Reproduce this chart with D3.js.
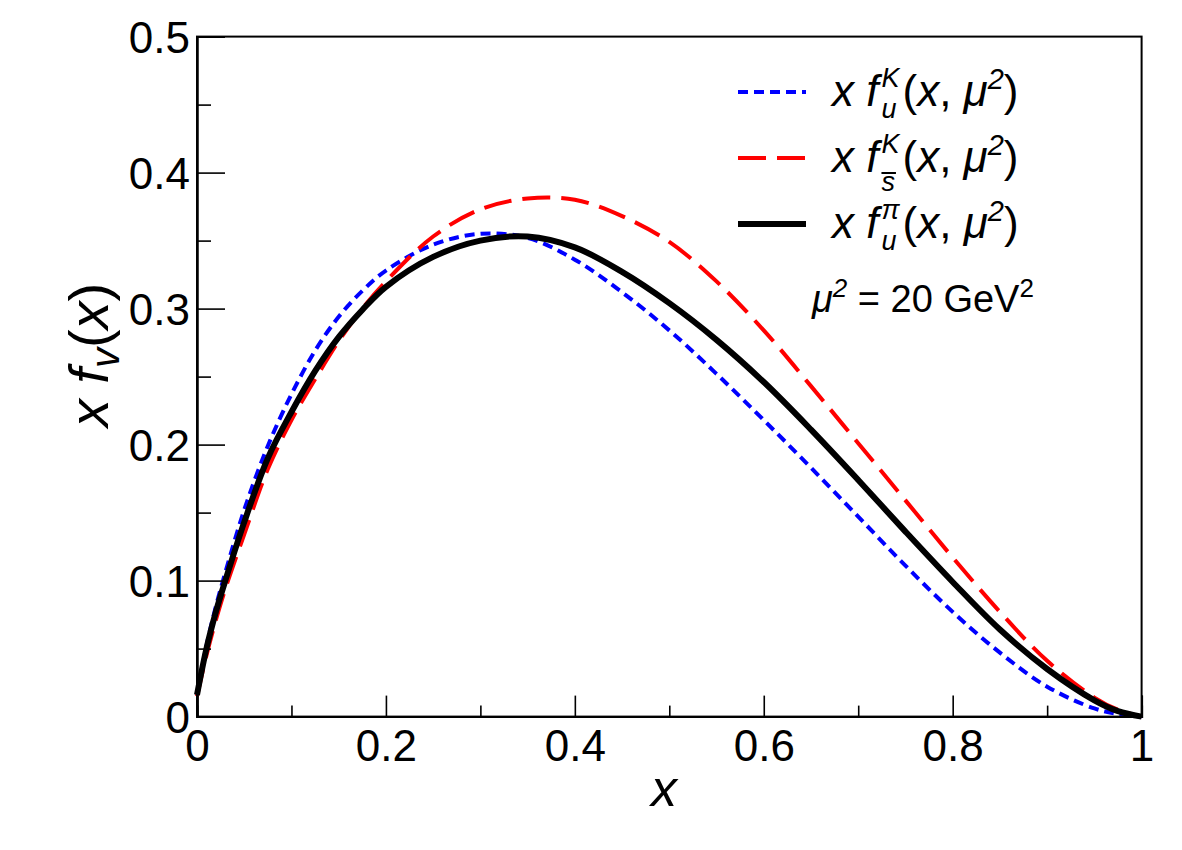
<!DOCTYPE html>
<html><head><meta charset="utf-8">
<script src="https://cdn.jsdelivr.net/npm/d3@7"></script>
<style>body{margin:0;background:#fff} svg{display:block} text{font-family:"Liberation Sans",Arial,Helvetica,sans-serif;fill:#000}</style>
</head><body><svg id="c" width="1182" height="850"></svg>
<script>
// ---- data ----
const xVals = [0,0.01,0.02,0.03,0.05,0.075,0.1,0.125,0.15,0.175,0.2,0.25,0.3,0.35,0.4,0.45,0.5,0.55,0.6,0.65,0.7,0.75,0.8,0.85,0.9,0.95,0.975,1.0];
const kaonU   = [0.016,0.052,0.081,0.106,0.152,0.199,0.237,0.269,0.294,0.313,0.328,0.347,0.355,0.352,0.336,0.312,0.284,0.252,0.218,0.183,0.147,0.111,0.077,0.047,0.022,0.006,0.002,0.0];
const kaonSbar= [0.015,0.045,0.071,0.094,0.134,0.182,0.218,0.248,0.276,0.300,0.320,0.353,0.373,0.381,0.380,0.368,0.349,0.320,0.284,0.243,0.201,0.159,0.117,0.077,0.041,0.014,0.005,0.0];
const pionU   = [0.016,0.050,0.077,0.100,0.143,0.190,0.224,0.254,0.279,0.299,0.316,0.338,0.350,0.353,0.345,0.327,0.304,0.277,0.246,0.211,0.174,0.136,0.099,0.064,0.035,0.012,0.004,0.0];
const xMajor = [0,0.2,0.4,0.6,0.8,1];
const xMinor = [0.1,0.3,0.5,0.7,0.9];
const yMajor = [0,0.1,0.2,0.3,0.4,0.5];
const yMinor = [0.05,0.15,0.25,0.35,0.45];
const xTickLabels = ["0","0.2","0.4","0.6","0.8","1"];
const yTickLabels = ["0","0.1","0.2","0.3","0.4","0.5"];

const series = [
  {name:"kaonU", values:kaonU, color:"#0000ff", width:4, dash:"10,6", sup:"K", sub:"u", bar:false},
  {name:"kaonSbar", values:kaonSbar, color:"#ff0000", width:4, dash:"28,11", sup:"K", sub:"s", bar:true},
  {name:"pionU", values:pionU, color:"#000000", width:6, dash:null, sup:"π", sub:"u", bar:false}
];

// ---- layout ----
const L=197, R=1141.6, T=36.6, B=716.6;
const svg = d3.select("#c");
const x = d3.scaleLinear().domain([0,1]).range([L,R]);
const y = d3.scaleLinear().domain([0,0.5]).range([B,T]);

// curves
const line = d3.line().x((d,i)=>x(xVals[i])).y(d=>y(d)).curve(d3.curveCatmullRom.alpha(0.5));
series.forEach(s=>{
  svg.append("path").attr("d", line(s.values)).attr("fill","none")
    .attr("stroke", s.color).attr("stroke-width", s.width)
    .attr("stroke-dasharray", s.dash).attr("stroke-linejoin","round");
});

// frame
svg.append("rect").attr("x",L).attr("y",T).attr("width",R-L).attr("height",B-T)
  .attr("fill","none").attr("stroke","#000").attr("stroke-width",2);

// axes
const fmtX = d => xTickLabels[xMajor.indexOf(d)];
const fmtY = d => yTickLabels[yMajor.indexOf(d)];
const gx = svg.append("g").attr("transform",`translate(0,${B})`)
  .call(d3.axisBottom(x).tickValues(xMajor).tickSize(-21).tickPadding(13).tickFormat(fmtX));
const gxm = svg.append("g").attr("transform",`translate(0,${B})`)
  .call(d3.axisBottom(x).tickValues(xMinor).tickSize(-11).tickFormat(""));
const gy = svg.append("g").attr("transform",`translate(${L},0)`)
  .call(d3.axisLeft(y).tickValues(yMajor).tickSize(-28).tickPadding(7).tickFormat(fmtY));
const gym = svg.append("g").attr("transform",`translate(${L},0)`)
  .call(d3.axisLeft(y).tickValues(yMinor).tickSize(-14).tickFormat(""));
[gx,gxm,gy,gym].forEach(g=>{
  g.select(".domain").attr("stroke","#000").attr("stroke-width",2);
  g.selectAll(".tick line").attr("stroke","#000").attr("stroke-width",1.6);
  g.selectAll(".tick text").attr("font-size",44).attr("font-family","Liberation Sans, Arial, sans-serif").attr("fill","#000");
});
gy.selectAll(".tick text").attr("dy","0.36em");

// axis titles
svg.append("text").attr("x",664).attr("y",806).attr("text-anchor","middle")
  .attr("font-size",52).attr("font-style","italic").text("x");
const yl = svg.append("text").attr("transform","translate(108,355) rotate(-90)")
  .attr("text-anchor","middle").attr("font-size",56);
yl.append("tspan").attr("font-style","italic").text("x f");
yl.append("tspan").attr("font-style","italic").attr("font-size",40).attr("dy",11).text("v");
yl.append("tspan").attr("dy",-11).text("(");
yl.append("tspan").attr("font-style","italic").text("x");
yl.append("tspan").text(")");

// text width helper
function measure(str, size, italic){
  const t = svg.append("text").attr("font-size",size).attr("font-style",italic?"italic":"normal")
    .attr("xml:space","preserve").text(str);
  const w = t.node().getComputedTextLength(); t.remove(); return w;
}

// legend
const legRows = [92,158,224];
const fs = 44, ss = 27;
series.forEach((s,i)=>{
  const ly = legRows[i];
  svg.append("line").attr("x1",738).attr("x2",806).attr("y1",ly).attr("y2",ly)
    .attr("stroke",s.color).attr("stroke-width",s.width).attr("stroke-dasharray",s.dash);
  const base = ly+14;
  const x0 = 832;
  const w1 = measure("x f", fs, true);
  const xs = x0 + w1 + 3;
  const wsup = measure(s.sup, ss, true), wsub = measure(s.sub, ss, true);
  const supY = base-19, subY = s.bar ? base+19 : base+12;
  const xr = xs + Math.max(wsup,wsub) + 3;
  const t = svg.append("text").attr("y",base).attr("font-size",fs).attr("xml:space","preserve");
  t.append("tspan").attr("x",x0).attr("y",base).attr("font-style","italic").text("x f");
  t.append("tspan").attr("x",xs).attr("y",supY).attr("font-size",ss).attr("font-style","italic").text(s.sup);
  t.append("tspan").attr("x",xs).attr("y",subY).attr("font-size",ss).attr("font-style","italic").text(s.sub);
  t.append("tspan").attr("x",xr).attr("y",base).text("(");
  t.append("tspan").attr("font-style","italic").text("x");
  t.append("tspan").text(", ");
  t.append("tspan").attr("font-style","italic").text("μ");
  t.append("tspan").attr("font-size",ss+2).attr("font-style","italic").attr("dy",-17).text("2");
  t.append("tspan").attr("dy",17).text(")");
  if (s.bar) {
    svg.append("line").attr("x1",xs).attr("x2",xs+wsub+1).attr("y1",subY-18).attr("y2",subY-18)
      .attr("stroke","#000").attr("stroke-width",2);
  }
});

// annotation
const an = svg.append("text").attr("x",812).attr("y",312).attr("font-size",38).attr("xml:space","preserve");
an.append("tspan").attr("font-style","italic").text("μ");
an.append("tspan").attr("font-size",26).attr("font-style","italic").attr("dy",-15).text("2");
an.append("tspan").attr("dy",15).text(" = 20 GeV");
an.append("tspan").attr("font-size",26).attr("dy",-15).text("2");
</script></body></html>
